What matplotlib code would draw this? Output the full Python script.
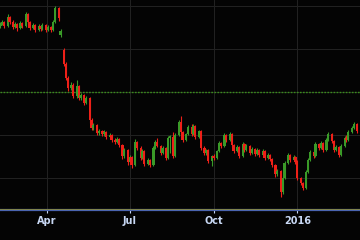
import matplotlib
matplotlib.use("Agg")
import matplotlib.pyplot as plt
import matplotlib.dates as mdates
from matplotlib.ticker import MultipleLocator
import numpy as np
import pandas as pd

# ---- data ----
dates = pd.bdate_range("2015-02-09", periods=282)[::2]

opens = [195, 197, 199, 195, 204, 199, 194, 197, 193, 198,
         195, 207, 199, 193, 196, 191, 195, 192, 196, 191,
         194, 191, 199, 213, 186, 171, 157, 143, 133, 136,
         125, 135, 123, 126, 118, 123, 101, 93, 96, 88,
         90, 87, 89, 84, 86, 81, 79, 82, 76, 65,
         71, 59, 64, 56, 79, 73, 63, 70, 57, 61,
         56, 73, 79, 75, 68, 73, 63, 83, 84, 65,
         86, 99, 89, 81, 87, 94, 87, 95, 84, 90,
         73, 68, 71, 60, 65, 63, 70, 78, 75, 86,
         81, 87, 76, 70, 74, 65, 77, 71, 75, 68,
         72, 67, 71, 66, 70, 63, 66, 62, 56, 47,
         50, 29, 43, 58, 66, 61, 64, 59, 43, 38,
         33, 49, 61, 69, 65, 77, 73, 78, 71, 81,
         87, 80, 71, 74, 66, 75, 83, 81, 89, 93,
         97]

closes = [197, 199, 195, 204, 199, 194, 197, 193, 198, 195,
          207, 199, 193, 196, 191, 195, 192, 196, 191, 194,
          191, 199, 213, 203, 190, 157, 143, 133, 136, 125,
          135, 123, 126, 118, 123, 101, 93, 96, 88, 90,
          87, 89, 84, 86, 81, 79, 82, 76, 65, 71,
          59, 64, 56, 79, 73, 63, 70, 57, 61, 56,
          73, 79, 75, 68, 73, 63, 83, 84, 65, 86,
          99, 89, 81, 87, 94, 87, 95, 84, 90, 73,
          68, 71, 60, 65, 63, 70, 78, 75, 86, 81,
          87, 76, 70, 74, 65, 77, 71, 75, 68, 72,
          67, 71, 66, 70, 63, 66, 62, 56, 47, 50,
          29, 43, 58, 66, 61, 64, 59, 43, 38, 33,
          49, 61, 69, 65, 77, 73, 78, 71, 81, 87,
          80, 71, 74, 66, 75, 83, 81, 89, 93, 97,
          90]

highs = [199, 201, 200, 207, 205, 201, 199, 198, 200, 199,
         209, 208, 200, 198, 197, 197, 196, 198, 197, 196,
         195, 201, 215, 214, 192, 173, 159, 145, 139, 138,
         141, 136, 128, 127, 125, 124, 103, 98, 97, 92,
         91, 91, 90, 88, 87, 83, 84, 83, 77, 73,
         72, 66, 65, 82, 80, 75, 72, 71, 63, 62,
         75, 81, 83, 76, 75, 74, 85, 86, 89, 88,
         101, 105, 90, 88, 96, 97, 97, 96, 91, 91,
         75, 72, 72, 66, 67, 71, 80, 79, 88, 87,
         89, 88, 77, 76, 75, 79, 78, 77, 76, 74,
         73, 73, 72, 72, 71, 68, 67, 63, 57, 52,
         51, 45, 60, 68, 67, 66, 65, 61, 44, 39,
         51, 63, 71, 70, 79, 78, 80, 79, 83, 89,
         88, 81, 76, 75, 77, 85, 86, 91, 95, 99,
         98]

lows = [193, 196, 193, 194, 197, 192, 193, 190, 192, 193,
        194, 197, 191, 192, 189, 190, 190, 191, 189, 190,
        189, 190, 198, 200, 184, 155, 141, 130, 131, 123,
        123, 121, 121, 116, 117, 98, 91, 91, 86, 86,
        85, 85, 82, 83, 79, 77, 78, 74, 62, 63,
        56, 58, 53, 55, 71, 61, 62, 55, 56, 54,
        55, 72, 74, 66, 67, 61, 62, 68, 63, 64,
        85, 87, 79, 80, 86, 85, 86, 82, 83, 71,
        66, 66, 58, 55, 61, 62, 69, 73, 74, 79,
        80, 74, 68, 69, 63, 64, 69, 70, 66, 67,
        65, 66, 64, 65, 61, 62, 60, 54, 44, 45,
        24, 27, 42, 57, 59, 60, 57, 41, 36, 31,
        32, 48, 60, 63, 64, 71, 72, 69, 70, 80,
        78, 69, 70, 64, 65, 74, 79, 80, 88, 92,
        88]

reference_level = 129
tick_dates = ["2015-04-01", "2015-07-01", "2015-10-01", "2016-01-01"]
tick_labels = ["Apr", "Jul", "Oct", "2016"]

# ---- styling ----
UP = "#3a9a28"
DOWN = "#ee2018"
BG = "#040404"

fig = plt.figure(figsize=(3.6, 2.4), dpi=100, facecolor=BG)
ax = fig.add_axes([0, 0.125, 1, 0.875], facecolor=BG)

x = mdates.date2num(dates)
o = np.array(opens, dtype=float)
c = np.array(closes, dtype=float)
h = np.array(highs, dtype=float)
l = np.array(lows, dtype=float)
up = c >= o
cols = np.where(up, UP, DOWN)

ax.vlines(x, l, h, colors=cols, linewidth=0.8, zorder=3)
body = np.where(np.abs(c - o) < 2.0, np.where(up, 2.0, -2.0), c - o)
ax.bar(x, body, bottom=o, width=2.4, color=cols, linewidth=0, zorder=4)

# grid
ax.yaxis.set_major_locator(MultipleLocator(43))
ax.set_xticks(mdates.date2num(pd.to_datetime(tick_dates)))
ax.set_xticklabels(tick_labels)
ax.grid(True, color="#222222", linewidth=0.7, zorder=0)
ax.set_axisbelow(True)

ax.axhline(reference_level, color="#3a8c1c", linestyle=(0, (1.2, 1.0)),
           linewidth=1.0, zorder=2)

ax.set_xlim(mdates.date2num(pd.Timestamp("2015-02-08 12:00")),
            mdates.date2num(pd.Timestamp("2016-03-09 21:00")))
ax.set_ylim(11, 221)

for s in ["top", "right", "left"]:
    ax.spines[s].set_visible(False)
ax.spines["bottom"].set_color("#4a64b0")
ax.spines["bottom"].set_linewidth(1.6)
ax.axhline(11.6, color="#8a8a3a", linewidth=0.6, zorder=5)

ax.tick_params(axis="y", left=False, labelleft=False)
ax.tick_params(axis="x", colors="#c8d8f4", length=2, width=0.8, pad=2.5,
               labelsize=7)
for t in ax.get_xticklabels():
    t.set_fontweight("bold")
    t.set_color("#c8d8f4")

fig.savefig("out.png", dpi=100, facecolor=BG)
